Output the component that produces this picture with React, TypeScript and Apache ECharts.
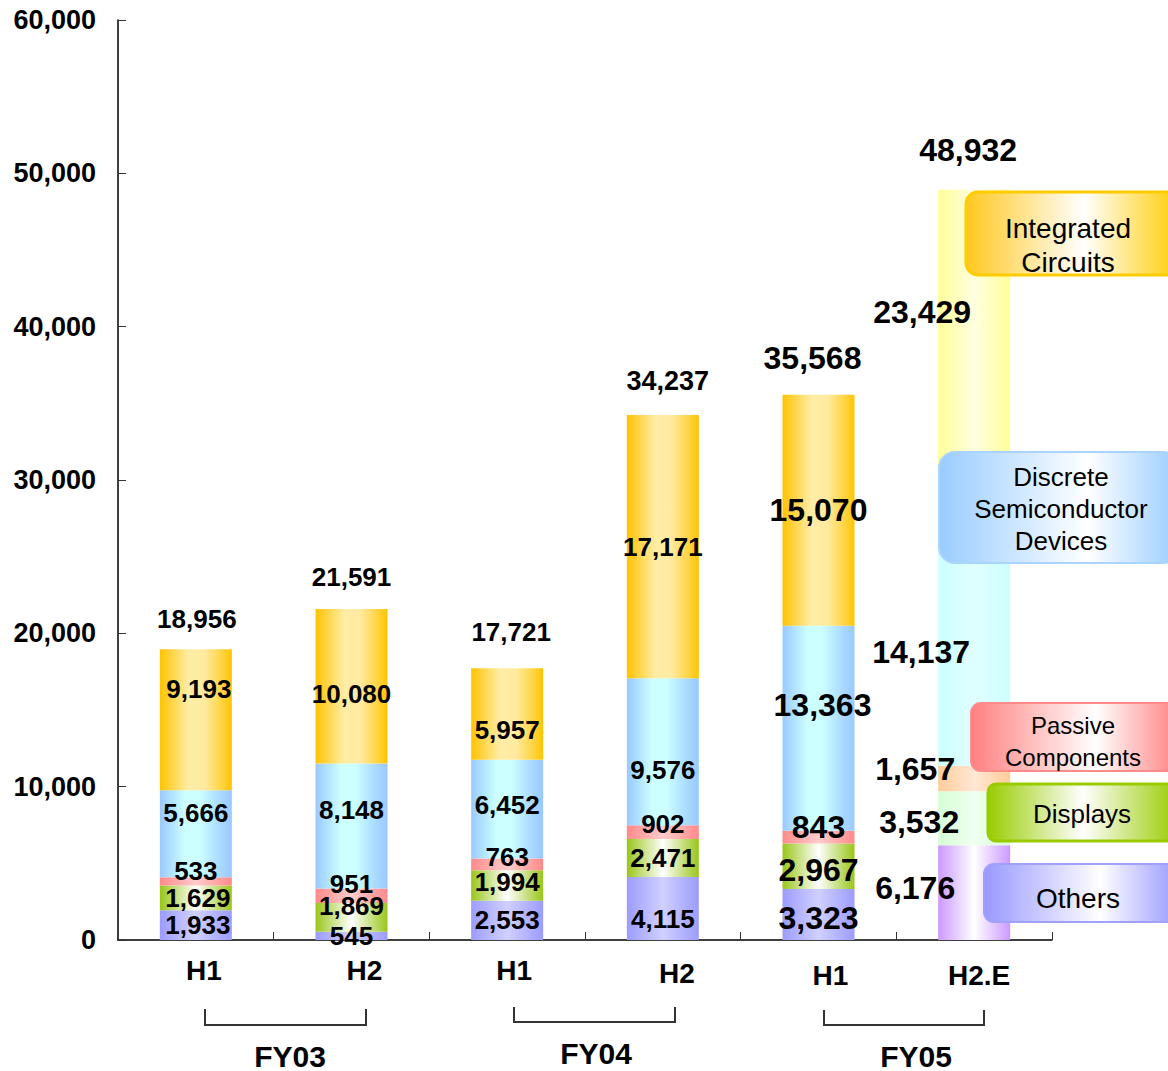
import React, { useEffect, useRef } from "react";
import * as echarts from "echarts";

// ---- data ----
const CATEGORIES = ["H1", "H2", "H1", "H2", "H1", "H2.E"];
const FISCAL_YEARS = ["FY03", "FY04", "FY05"];
const SERIES_NAMES = ["Others", "Displays", "Passive Components", "Discrete Semiconductor Devices", "Integrated Circuits"];
const OTHERS = [1933, 545, 2553, 4115, 3323, 6176];
const DISPLAYS = [1629, 1869, 1994, 2471, 2967, 3532];
const PASSIVE = [533, 951, 763, 902, 843, 1657];
const DISCRETE = [5666, 8148, 6452, 9576, 13363, 14137];
const IC = [9193, 10080, 5957, 17171, 15070, 23429];
const TOTALS = [18956, 21591, 17721, 34237, 35568, 48932];
const Y_MAX = 60000;
const Y_STEP = 10000;
const LEGEND_TEXTS = ["Integrated\nCircuits", "Discrete\nSemiconductor\nDevices", "Passive\nComponents", "Displays", "Others"];

// ---- layout / style (not data) ----
const FONT = "'Liberation Sans', Arial, sans-serif";
const LABEL_SIZE = [26, 26, 26, 26, 32, 32];
const TOTAL_SIZE = [26, 26, 26, 27, 32, 32];
const LABEL_DY = [
  [0, 0, 0, 11, 3, -5],
  [0, -11, -4, 0, 4, 4],
  [-10, -12, -7, -8, -10, -9],
  [-21, -16, -4, 18, -23, -5],
  [-31, 8, 16, 0, 0, -57],
];
const LABEL_DX = [
  [2, 0, 0, 0, 0, -59],
  [2, 0, 0, 0, 0, -55],
  [0, 0, 0, 0, 0, -59],
  [0, 0, 0, 0, 4, -53],
  [3, 0, 0, 0, 0, -52],
];
const TOTAL_OFF = [[1, -30], [0, -32], [4, -36], [5, -34], [-6, -37], [-6, -40]];
const XLABEL_PAD = [[0, 16], [0, 26], [0, 14], [3, 28], [5, 24], [5, 10]];

type Stop = [number, string];
const grad = (stops: Stop[]) =>
  new echarts.graphic.LinearGradient(0, 0, 1, 0, stops.map(([offset, color]) => ({ offset, color })));

const NORMAL: Stop[][] = [
  [[0, "#9C9CFF"], [0.5, "#D0D0FF"], [1, "#9C9CFF"]],
  [[0, "#99C61A"], [0.5, "#FFFFFF"], [1, "#99C61A"]],
  [[0, "#FF8A8A"], [0.5, "#FFCCCC"], [1, "#FF8A8A"]],
  [[0, "#99C9FF"], [0.35, "#CCFFFF"], [0.55, "#CCFFFF"], [0.85, "#A8D8FF"], [1, "#99C9FF"]],
  [[0, "#FFC400"], [0.12, "#FFCF33"], [0.4, "#FFEDA6"], [0.62, "#FFEAA0"], [0.88, "#FFD23A"], [1, "#FFC400"]],
];
const PALE: Stop[][] = [
  [[0, "#CC99FF"], [0.5, "#FFFFFF"], [1, "#CC99FF"]],
  [[0, "#D5FFD5"], [0.5, "#F0FFF0"], [1, "#D5FFD5"]],
  [[0, "#FFCC99"], [0.5, "#FFE8D5"], [1, "#FFCC99"]],
  [[0, "#CCFFFF"], [0.5, "#E0FFFF"], [1, "#CCFFFF"]],
  [[0, "#FFFF99"], [0.5, "#FFFFE0"], [1, "#FFFF99"]],
];

const fmt = (v: number) => Number(v).toLocaleString("en-US");

export default function App() {
  const ref = useRef<HTMLDivElement>(null);
  useEffect(() => {
    if (!ref.current) return;
    const chart = echarts.init(ref.current, undefined, { renderer: "svg" });
    const stacks = [OTHERS, DISPLAYS, PASSIVE, DISCRETE, IC];

    const barSeries = stacks.map((arr, s) => ({
      name: SERIES_NAMES[s],
      type: "bar",
      stack: "total",
      barWidth: 72,
      data: arr.map((v, i) => ({
        value: v,
        itemStyle: { color: grad(i === 5 ? PALE[s] : NORMAL[s]) },
        label: { fontSize: LABEL_SIZE[i], offset: [LABEL_DX[s][i], LABEL_DY[s][i]] },
      })),
      label: {
        show: true,
        position: "inside",
        color: "#000",
        fontWeight: "bold",
        fontFamily: FONT,
        formatter: (p: any) => fmt(p.value),
      },
    }));

    const totalSeries = {
      name: "Total",
      type: "scatter",
      symbolSize: 0,
      itemStyle: { color: "#000", opacity: 1 },
      data: TOTALS.map((v, i) => ({
        value: v,
        label: { fontSize: TOTAL_SIZE[i], offset: TOTAL_OFF[i] },
      })),
      label: {
        show: true,
        position: "inside",
        color: "#000",
        textBorderWidth: 0,
        opacity: 1,
        fontWeight: "bold",
        fontFamily: FONT,
        formatter: (p: any) => fmt(p.value),
      },
      z: 10,
    };

    const rich: any = {};
    XLABEL_PAD.forEach(([t, l], i) => {
      rich["l" + i] = {
        padding: [t, 0, 0, l],
        fontSize: 28,
        fontWeight: "bold",
        fontFamily: FONT,
        color: "#000",
      };
    });

    const legendBox = (
      x: number, y: number, w: number, h: number, r: number,
      stops: Stop[], stroke: string, lw: number,
      text: string, tx: number, ty: number, fs: number, lh: number
    ) => ({
      type: "group",
      z: 100,
      children: [
        {
          type: "rect",
          z: 100,
          shape: { x, y, width: w, height: h, r },
          style: { fill: grad(stops), stroke, lineWidth: lw },
        },
        {
          type: "text",
          z: 101,
          style: {
            text, x: tx, y: ty, align: "center", verticalAlign: "middle",
            fontSize: fs, lineHeight: lh, fontFamily: FONT, fill: "#000",
          },
        },
      ],
    });

    const bracket = (x1: number, x2: number, y1: number, y2: number) => ({
      type: "polyline",
      shape: { points: [[x1, y1], [x1, y2], [x2, y2], [x2, y1]] },
      style: { stroke: "#333", lineWidth: 2, fill: "none" },
    });
    const fyText = (t: string, x: number, y: number) => ({
      type: "text",
      style: { text: t, x, y, align: "center", verticalAlign: "middle", fontSize: 30, fontWeight: "bold", fontFamily: FONT, fill: "#000" },
    });

    chart.setOption({
      animation: false,
      grid: { left: 118, top: 20, width: 934, height: 920 },
      xAxis: {
        type: "category",
        data: CATEGORIES,
        axisLine: { lineStyle: { color: "#000", width: 1.5 } },
        axisTick: { show: true, inside: true, length: 8, lineStyle: { color: "#333" } },
        axisLabel: {
          margin: 16,
          formatter: (v: string, i: number) => `{l${i}|${v}}`,
          rich,
        },
      },
      yAxis: {
        type: "value",
        min: 0,
        max: Y_MAX,
        interval: Y_STEP,
        axisLine: { show: true, lineStyle: { color: "#000", width: 1.5 } },
        axisTick: { show: true, inside: true, length: 8, lineStyle: { color: "#333" } },
        splitLine: { show: false },
        axisLabel: {
          margin: 22,
          fontSize: 27,
          fontWeight: "bold",
          fontFamily: FONT,
          color: "#000",
          formatter: (v: number) => fmt(v),
        },
      },
      series: [...barSeries, totalSeries],
      graphic: [
        legendBox(966, 192, 214, 83, 12, [[0, "#FFC820"], [0.55, "#FFFFFF"], [1, "#FFCC00"]], "#FFCC00", 3, LEGEND_TEXTS[0], 1068, 245, 28, 34),
        legendBox(939, 452, 240, 111, 16, [[0, "#99CCFF"], [0.62, "#FFFFFF"], [1, "#99CCFF"]], "#A8D4FF", 2, LEGEND_TEXTS[1], 1061, 509, 26, 32),
        legendBox(971, 703, 208, 68, 10, [[0, "#FF8080"], [0.6, "#FFFFFF"], [1, "#FF8080"]], "#FF8A8A", 2, LEGEND_TEXTS[2], 1073, 741, 24, 32),
        legendBox(988, 784, 190, 57, 8, [[0, "#99CC00"], [0.5, "#FFFFFF"], [1, "#99CC00"]], "#99CC00", 3, LEGEND_TEXTS[3], 1082, 814, 26, 30),
        legendBox(984, 864, 194, 58, 10, [[0, "#9999FF"], [0.6, "#FFFFFF"], [1, "#9999FF"]], "#A0A0FF", 2, LEGEND_TEXTS[4], 1078, 898, 28, 30),
        bracket(205, 366, 1009, 1025),
        bracket(514, 675, 1007, 1022),
        bracket(824, 984, 1010, 1025),
        fyText(FISCAL_YEARS[0], 290, 1056),
        fyText(FISCAL_YEARS[1], 596, 1053),
        fyText(FISCAL_YEARS[2], 916, 1056),
      ],
    });
    return () => chart.dispose();
  }, []);
  return (
    <div
      ref={ref}
      style={{ position: "fixed", left: 0, top: 0, width: 1168, height: 1071, background: "#fff" }}
    />
  );
}
